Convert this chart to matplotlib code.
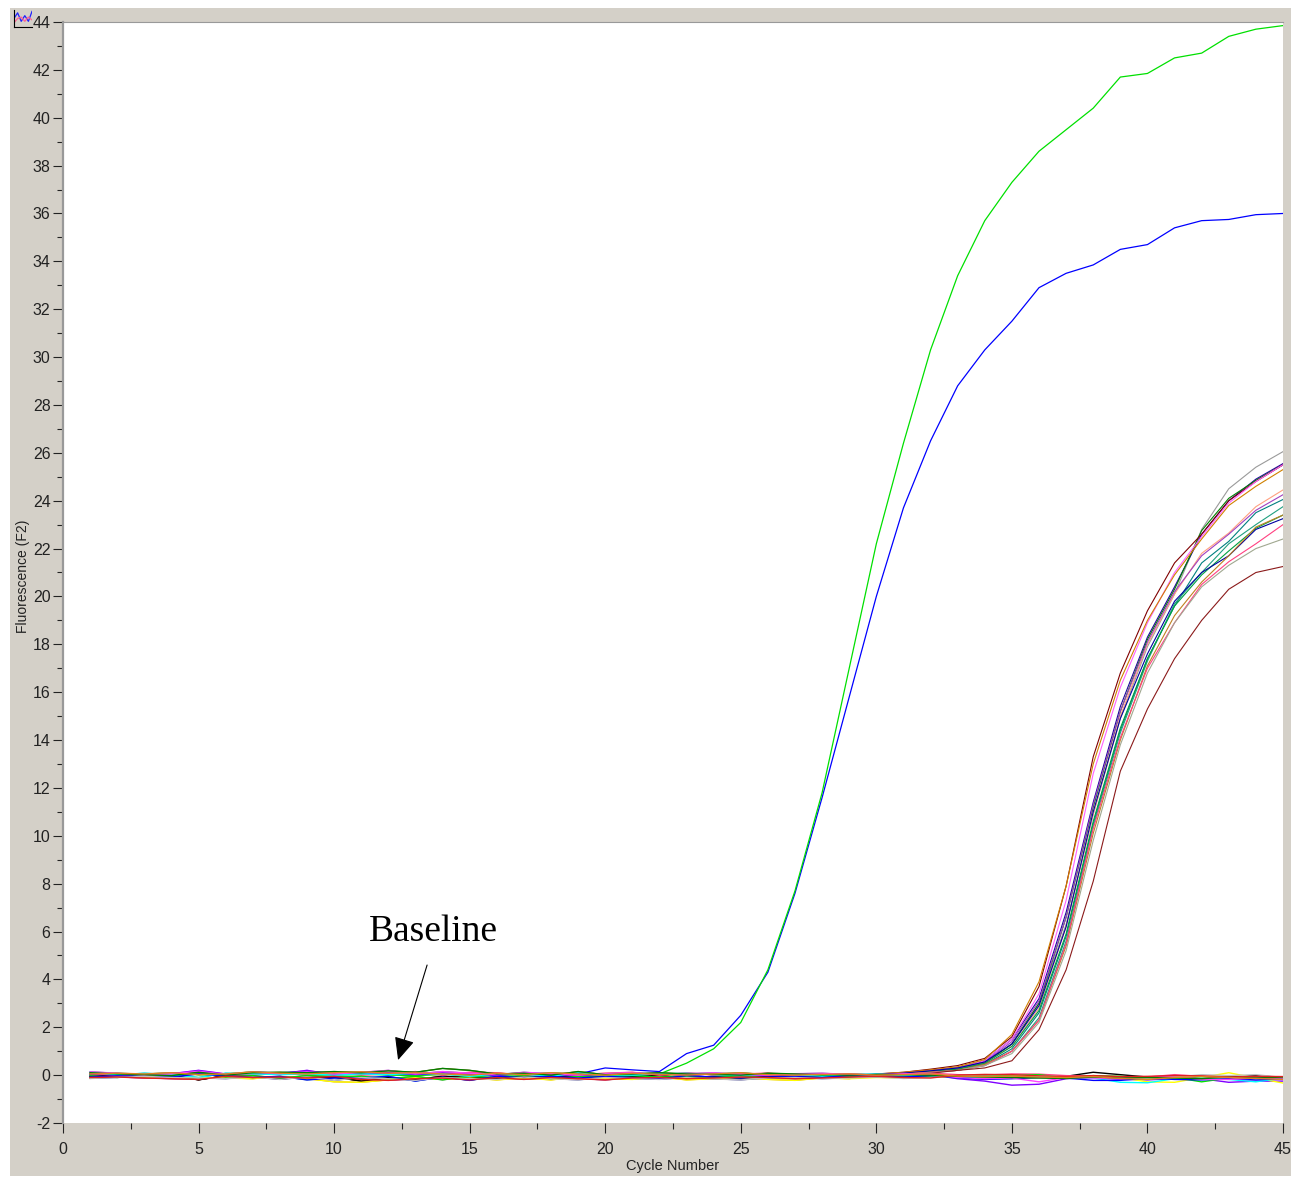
import matplotlib
matplotlib.use('Agg')
import matplotlib.pyplot as plt
from matplotlib.patches import Rectangle

W, H = 1293, 1178

# cycle numbers 1..45
cycles = list(range(1, 46))

# the two early risers
green_high = [0.02, 0.0, 0.03, 0.05, 0.02, -0.02, 0.04, 0.05, 0.02, 0.03, 0.05, 0.0, -0.02, 0.02, 0.03, -0.02,
              0.03, 0.02, -0.03, -0.05, 0.0, 0.05, 0.5, 1.1, 2.2, 4.4, 7.7, 11.8, 17.0, 22.2, 26.4, 30.3, 33.4,
              35.7, 37.3, 38.6, 39.5, 40.4, 41.7, 41.85, 42.5, 42.7, 43.4, 43.7, 43.85]
blue_high = [0.05, 0.02, 0.0, 0.03, 0.08, 0.02, 0.12, 0.1, 0.15, 0.08, 0.1, 0.05, 0.02, 0.05, 0.03, 0.0,
             0.05, 0.02, 0.05, 0.3, 0.22, 0.15, 0.9, 1.25, 2.5, 4.3, 7.6, 11.6, 15.8, 20.0, 23.7, 26.5, 28.8,
             30.3, 31.5, 32.9, 33.5, 33.85, 34.5, 34.7, 35.4, 35.7, 35.75, 35.95, 36.0]

# baseline noise, cycles 1..32
early_a = [0.1, 0.05, 0.02, -0.02, 0.12, 0.0, 0.1, 0.12, 0.1, 0.15, 0.1, 0.18, 0.12, 0.28, 0.2, 0.05, 0.08, 0.0, 0.15, 0.02, 0.05, 0.1, 0.05, 0.03, 0.0, 0.08, 0.05, 0.02, 0.0, 0.03, 0.02, 0.0]
early_b = [-0.1, -0.08, -0.12, -0.15, -0.18, -0.05, -0.1, -0.08, -0.12, -0.05, -0.18, -0.22, -0.15, -0.12, -0.2, -0.1, -0.18, -0.1, -0.15, -0.2, -0.12, -0.1, -0.15, -0.12, -0.08, -0.1, -0.15, -0.12, -0.08, -0.05, -0.1, -0.12]
early_c = [0.05, 0.08, 0.05, 0.1, 0.02, 0.05, 0.14, 0.08, 0.05, 0.1, 0.14, 0.08, 0.1, 0.05, 0.0, 0.08, 0.02, 0.1, 0.05, 0.0, 0.08, 0.03, 0.0, 0.05, 0.1, 0.02, 0.0, 0.03, 0.05, 0.0, 0.02, 0.05]
early_d = [-0.05, 0.02, -0.08, 0.0, -0.2, -0.02, -0.05, -0.15, -0.1, -0.08, -0.25, -0.1, -0.18, -0.05, -0.1, -0.15, -0.05, -0.08, -0.02, -0.1, -0.05, -0.02, -0.12, -0.05, -0.15, -0.05, -0.02, -0.08, -0.1, -0.02, -0.05, -0.02]
early_e = [0.0, 0.05, -0.02, 0.06, 0.2, 0.05, 0.02, 0.06, 0.2, 0.02, 0.08, 0.1, 0.02, 0.1, 0.05, -0.02, 0.1, 0.03, -0.02, 0.05, 0.02, 0.08, -0.02, 0.06, 0.02, -0.02, 0.03, 0.05, -0.02, 0.04, 0.0, 0.02]
early_f = [-0.12, -0.05, -0.08, -0.12, -0.1, -0.12, -0.15, -0.05, -0.15, -0.28, -0.3, -0.2, -0.1, -0.18, -0.12, -0.2, -0.12, -0.2, -0.08, -0.15, -0.18, -0.08, -0.2, -0.15, -0.1, -0.18, -0.22, -0.12, -0.15, -0.1, -0.12, -0.08]
early_g = [0.08, -0.02, 0.04, 0.08, 0.05, 0.0, 0.02, 0.1, 0.0, 0.12, 0.0, 0.05, 0.15, 0.0, 0.12, 0.1, 0.0, 0.05, 0.02, 0.08, 0.12, 0.0, 0.1, 0.0, 0.05, 0.08, -0.02, 0.0, 0.05, 0.02, 0.05, 0.08]
early_h = [-0.03, -0.1, 0.0, -0.05, 0.12, -0.08, -0.02, -0.12, -0.02, -0.05, -0.05, -0.15, -0.05, -0.2, -0.05, -0.1, -0.02, -0.15, -0.05, -0.08, -0.02, -0.08, -0.05, -0.1, -0.02, -0.12, -0.08, -0.02, -0.05, -0.08, -0.03, -0.05]
early_i = [0.12, 0.02, 0.08, 0.03, -0.1, 0.08, 0.05, 0.02, 0.05, 0.0, 0.05, 0.02, 0.08, 0.05, -0.05, 0.05, 0.05, -0.05, 0.1, 0.02, 0.0, 0.05, 0.08, 0.02, -0.02, 0.05, 0.02, -0.05, 0.02, 0.05, -0.02, 0.03]
early_j = [-0.08, -0.03, -0.05, -0.08, 0.05, -0.03, -0.1, -0.05, -0.2, -0.12, -0.12, -0.05, -0.25, -0.08, -0.22, -0.05, -0.1, -0.05, -0.12, -0.05, -0.1, -0.15, -0.02, -0.08, -0.12, -0.08, -0.05, -0.1, -0.02, -0.06, -0.08, -0.02]
early_k = [0.14, 0.08, 0.0, 0.05, 0.16, 0.03, 0.12, 0.06, 0.14, 0.05, 0.12, 0.2, 0.05, 0.15, 0.08, 0.02, 0.12, 0.06, 0.0, 0.06, 0.1, 0.02, 0.06, 0.1, 0.03, 0.0, 0.06, 0.08, 0.03, 0.0, 0.05, 0.03]
early_l = [-0.14, -0.1, -0.05, -0.1, -0.12, -0.15, -0.08, -0.18, -0.08, -0.22, -0.1, -0.15, -0.22, -0.1, -0.15, -0.18, -0.08, -0.15, -0.2, -0.1, -0.14, -0.18, -0.1, -0.16, -0.2, -0.12, -0.1, -0.15, -0.12, -0.08, -0.14, -0.1]

early_rows = [early_a, early_b, early_c, early_d, early_e, early_f, early_g, early_h, early_i, early_j, early_k, early_l]

# cycles 33..45 of the curves that stay flat
flat_black = [-0.06, -0.1, -0.1, -0.08, -0.05, 0.12, 0.02, -0.08, -0.1, -0.12, -0.08, -0.02, -0.1]
flat_purple = [-0.15, -0.25, -0.42, -0.38, -0.15, -0.1, -0.18, -0.2, -0.15, -0.15, -0.3, -0.25, -0.25]
flat_yellow = [-0.1, -0.12, -0.12, -0.1, -0.08, -0.02, -0.1, -0.28, -0.3, -0.1, 0.1, -0.12, -0.33]
flat_pink = [0.02, 0.0, 0.05, 0.04, -0.02, -0.05, -0.08, -0.08, 0.02, -0.05, -0.1, -0.12, -0.08]
flat_lime = [-0.05, -0.05, -0.02, 0.02, -0.12, -0.02, -0.05, -0.12, -0.1, -0.28, -0.12, -0.1, -0.15]
flat_cyan = [-0.08, -0.12, -0.08, -0.05, -0.1, -0.12, -0.3, -0.32, -0.15, -0.12, -0.18, -0.28, -0.12]
flat_blue = [-0.12, -0.18, -0.15, -0.1, -0.12, -0.22, -0.22, -0.12, -0.18, -0.2, -0.15, -0.2, -0.15]
flat_magenta = [-0.1, -0.15, -0.12, -0.28, -0.1, -0.12, -0.15, -0.1, -0.05, -0.18, -0.18, -0.12, -0.12]
flat_gray = [-0.02, -0.08, -0.05, -0.02, -0.08, -0.05, -0.12, -0.15, -0.08, 0.02, -0.02, 0.02, -0.1]
flat_green = [-0.05, -0.08, -0.1, -0.12, -0.14, -0.08, -0.12, -0.1, -0.12, -0.15, -0.08, -0.12, -0.08]
flat_red = [0.0, 0.03, 0.02, -0.03, -0.06, -0.02, -0.06, -0.05, -0.02, -0.03, -0.08, -0.05, -0.06]
flat_orange = [-0.04, -0.06, -0.04, -0.08, -0.1, -0.06, -0.14, -0.18, -0.1, -0.06, -0.1, -0.14, -0.18]

flat_tails = [flat_black, flat_purple, flat_yellow, flat_pink, flat_lime, flat_cyan, flat_blue, flat_magenta,
              flat_gray, flat_green, flat_red, flat_orange]
flat_colors = ['#000000', '#8000ff', '#ffff00', '#ff4080', '#00e000', '#00ffff', '#0000ff', '#ff40ff',
               '#c0c0c0', '#008000', '#e02020', '#e08020']

# cycles 30..45 of the late risers
rise_gray = [0.02, 0.08, 0.15, 0.25, 0.5, 1.3, 3.0, 6.3, 10.9, 14.9, 17.9, 20.1, 22.8, 24.5, 25.4, 26.05]
rise_navy = [0.03, 0.1, 0.2, 0.3, 0.6, 1.5, 3.2, 6.8, 11.4, 15.4, 18.3, 20.4, 22.6, 24.0, 24.9, 25.55]
rise_dkgreen = [0.02, 0.08, 0.18, 0.3, 0.5, 1.3, 3.0, 6.6, 11.2, 15.2, 18.2, 20.3, 22.75, 24.1, 24.85, 25.5]
rise_maroon = [0.05, 0.12, 0.25, 0.4, 0.7, 1.6, 3.7, 7.9, 13.3, 16.8, 19.4, 21.4, 22.6, 24.0, 24.8, 25.5]
rise_magenta = [0.03, 0.1, 0.2, 0.3, 0.6, 1.5, 3.4, 7.3, 12.6, 16.2, 18.9, 21.0, 22.5, 23.9, 24.8, 25.5]
rise_orange = [0.04, 0.12, 0.22, 0.35, 0.65, 1.7, 3.9, 7.9, 13.0, 16.5, 19.0, 20.9, 22.4, 23.8, 24.6, 25.3]
rise_salmon = [0.0, 0.06, 0.15, 0.25, 0.5, 1.2, 2.8, 6.2, 10.9, 15.0, 18.0, 20.1, 21.8, 22.65, 23.75, 24.45]
rise_violet = [0.02, 0.08, 0.18, 0.3, 0.55, 1.4, 3.1, 6.6, 11.3, 15.2, 18.1, 20.2, 21.7, 22.6, 23.6, 24.25]
rise_teal = [0.0, 0.06, 0.14, 0.25, 0.45, 1.1, 2.6, 5.8, 10.5, 14.4, 17.4, 19.6, 21.4, 22.3, 23.5, 24.05]
rise_teal2 = [-0.02, 0.04, 0.12, 0.2, 0.4, 1.0, 2.4, 5.6, 10.4, 14.3, 17.3, 19.7, 21.0, 22.2, 23.0, 23.75]
rise_green = [0.0, 0.06, 0.15, 0.25, 0.5, 1.2, 2.7, 5.9, 10.6, 14.5, 17.4, 19.6, 20.9, 21.9, 22.85, 23.4]
rise_blue = [0.02, 0.08, 0.18, 0.3, 0.55, 1.3, 2.9, 6.2, 11.0, 14.9, 17.6, 19.8, 21.0, 21.7, 22.8, 23.25]
rise_orange2 = [-0.02, 0.05, 0.12, 0.2, 0.45, 1.0, 2.3, 5.4, 10.1, 14.0, 17.1, 19.2, 20.6, 21.7, 22.9, 23.4]
rise_pink = [-0.02, 0.04, 0.12, 0.2, 0.4, 1.0, 2.3, 5.5, 10.3, 14.1, 17.0, 18.9, 20.5, 21.45, 22.2, 23.0]
rise_tan = [-0.03, 0.03, 0.1, 0.2, 0.4, 0.9, 2.2, 5.2, 9.8, 13.8, 16.8, 18.9, 20.4, 21.3, 22.0, 22.4]
rise_low = [-0.05, 0.0, 0.08, 0.2, 0.3, 0.6, 1.9, 4.4, 8.1, 12.7, 15.3, 17.4, 19.0, 20.3, 21.0, 21.25]

rise_tails = [rise_gray, rise_navy, rise_dkgreen, rise_maroon, rise_magenta, rise_orange, rise_salmon, rise_violet,
              rise_teal, rise_teal2, rise_green, rise_blue, rise_orange2, rise_pink, rise_tan, rise_low]
rise_colors = ['#9a9a9a', '#2000a0', '#008000', '#800000', '#ff60ff', '#d08000', '#ffa080', '#a040c0',
               '#008080', '#20a080', '#00a040', '#0000a0', '#c08020', '#ff4080', '#a0a890', '#8b1a1a']

y_ticks = list(range(-2, 45, 2))
x_ticks = [0, 5, 10, 15, 20, 25, 30, 35, 40, 45]

plt.rcParams['font.family'] = ['Liberation Sans', 'DejaVu Sans']
plt.rcParams['axes.unicode_minus'] = False

fig = plt.figure(figsize=(W / 100, H / 100), dpi=100, facecolor='white')
fig.patches.append(Rectangle((10 / W, 1 - 1176 / H), 1281 / W, 1168 / H, transform=fig.transFigure,
                             facecolor='#d4d0c8', edgecolor='none', zorder=-5))

ax = fig.add_axes([63 / W, 1 - 1123 / H, 1220 / W, 1101 / H])
ax.set_facecolor('white')
ax.set_xlim(0, 45)
ax.set_ylim(-2, 44)

for i, tail in enumerate(rise_tails):
    row = early_rows[i % len(early_rows)]
    ax.plot(cycles, row[:29] + tail, color=rise_colors[i], lw=0.8)

ax.plot(cycles, blue_high, color='#0000ff', lw=0.9)
ax.plot(cycles, green_high, color='#00e000', lw=0.9)

for i, tail in enumerate(flat_tails):
    row = early_rows[(i + 3) % len(early_rows)]
    ax.plot(cycles, row + tail, color=flat_colors[i], lw=1.0)

ax.set_xticks(x_ticks)
ax.set_yticks(y_ticks)
ax.set_xticks([2.5 + 5 * k for k in range(9)], minor=True)
ax.set_yticks(list(range(-1, 44, 2)), minor=True)
ax.tick_params(axis='both', which='major', length=7.5, width=0.8, labelsize=11.5, color='#222222', labelcolor='#222222')
ax.tick_params(axis='both', which='minor', length=4, width=0.8, color='#222222')
ax.tick_params(axis='y', which='major', pad=1.5)
ax.tick_params(axis='x', which='major', pad=6)

for side in ['right', 'bottom']:
    ax.spines[side].set_visible(False)
ax.spines['left'].set_color('#999999')
ax.spines['left'].set_linewidth(1.6)
ax.spines['top'].set_color('#999999')
ax.spines['top'].set_linewidth(0.8)

fig.text(23 / W, 1 - 576 / H, 'Fluorescence (F2)', rotation=90, ha='center', va='center', fontsize=10, color='#222222')
fig.text(673 / W, 1 - 1166 / H, 'Cycle Number', ha='center', va='center', fontsize=10.5, color='#222222')

ax.text(13.65, 6.0, 'Baseline', family=['Liberation Serif'], fontsize=27, ha='center', va='center', color='black')
ax.annotate('', xy=(12.36, 0.63), xytext=(13.43, 4.6),
            arrowprops=dict(arrowstyle='-|>,head_length=1.0,head_width=0.45', color='black', lw=0.8, shrinkA=0, shrinkB=0,
                            mutation_scale=14))

# little chart icon in the window corner
icon = fig.add_axes([14 / W, 1 - 27 / H, 18 / W, 17 / H], facecolor='#d4d0c8')
icon.plot([0, 1, 2, 3, 4, 5], [3, 5, 2, 4, 2, 5.5], color='#2020ff', lw=0.9)
icon.plot([0, 1, 2, 3, 4, 5], [1.5, 3, 3.5, 2, 3.5, 2.5], color='#ff6090', lw=0.9)
icon.set_xlim(0, 5)
icon.set_ylim(0, 6)
icon.set_xticks([])
icon.set_yticks([])
icon.spines['top'].set_visible(False)
icon.spines['right'].set_visible(False)
icon.patch.set_alpha(0)

fig.savefig('out.png', dpi=100, facecolor='white')
